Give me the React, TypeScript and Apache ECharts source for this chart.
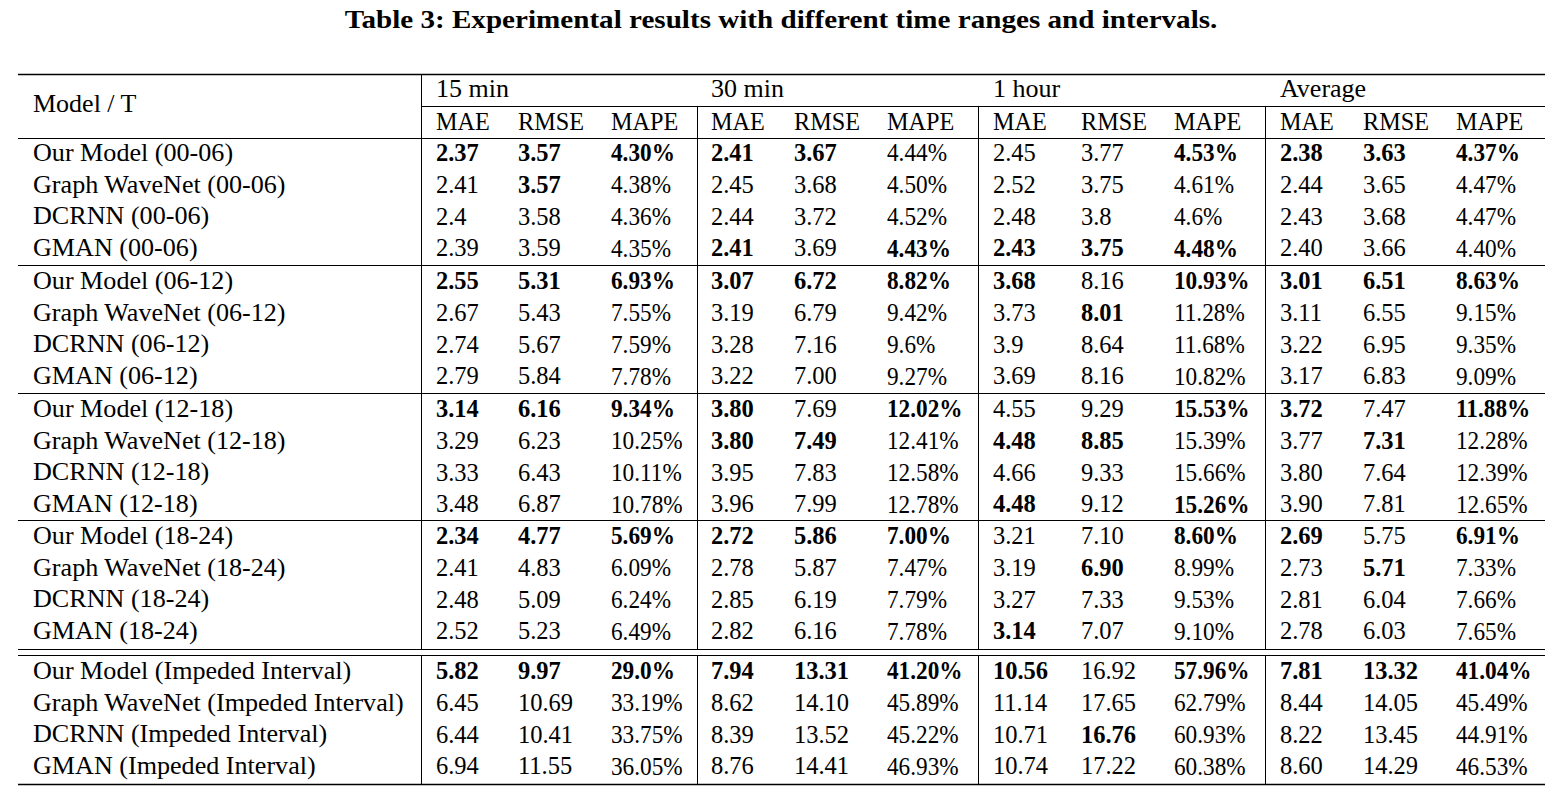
import React, { useEffect, useRef } from "react";
import * as echarts from "echarts";

const TITLE = "Table 3: Experimental results with different time ranges and intervals.";
const ROW_HEADER = "Model / T";
const PERIODS = ["15 min", "30 min", "1 hour", "Average"];
const METRICS = ["MAE", "RMSE", "MAPE"];
const MODELS = ["Our Model", "Graph WaveNet", "DCRNN", "GMAN"];
const GROUPS = ["00-06", "06-12", "12-18", "18-24", "Impeded Interval"];

// values per row: 15min(MAE,RMSE,MAPE), 30min, 1hour, Average
const V_00_06 = [
  ["2.37", "3.57", "4.30%", "2.41", "3.67", "4.44%", "2.45", "3.77", "4.53%", "2.38", "3.63", "4.37%"],
  ["2.41", "3.57", "4.38%", "2.45", "3.68", "4.50%", "2.52", "3.75", "4.61%", "2.44", "3.65", "4.47%"],
  ["2.4", "3.58", "4.36%", "2.44", "3.72", "4.52%", "2.48", "3.8", "4.6%", "2.43", "3.68", "4.47%"],
  ["2.39", "3.59", "4.35%", "2.41", "3.69", "4.43%", "2.43", "3.75", "4.48%", "2.40", "3.66", "4.40%"],
];
const V_06_12 = [
  ["2.55", "5.31", "6.93%", "3.07", "6.72", "8.82%", "3.68", "8.16", "10.93%", "3.01", "6.51", "8.63%"],
  ["2.67", "5.43", "7.55%", "3.19", "6.79", "9.42%", "3.73", "8.01", "11.28%", "3.11", "6.55", "9.15%"],
  ["2.74", "5.67", "7.59%", "3.28", "7.16", "9.6%", "3.9", "8.64", "11.68%", "3.22", "6.95", "9.35%"],
  ["2.79", "5.84", "7.78%", "3.22", "7.00", "9.27%", "3.69", "8.16", "10.82%", "3.17", "6.83", "9.09%"],
];
const V_12_18 = [
  ["3.14", "6.16", "9.34%", "3.80", "7.69", "12.02%", "4.55", "9.29", "15.53%", "3.72", "7.47", "11.88%"],
  ["3.29", "6.23", "10.25%", "3.80", "7.49", "12.41%", "4.48", "8.85", "15.39%", "3.77", "7.31", "12.28%"],
  ["3.33", "6.43", "10.11%", "3.95", "7.83", "12.58%", "4.66", "9.33", "15.66%", "3.80", "7.64", "12.39%"],
  ["3.48", "6.87", "10.78%", "3.96", "7.99", "12.78%", "4.48", "9.12", "15.26%", "3.90", "7.81", "12.65%"],
];
const V_18_24 = [
  ["2.34", "4.77", "5.69%", "2.72", "5.86", "7.00%", "3.21", "7.10", "8.60%", "2.69", "5.75", "6.91%"],
  ["2.41", "4.83", "6.09%", "2.78", "5.87", "7.47%", "3.19", "6.90", "8.99%", "2.73", "5.71", "7.33%"],
  ["2.48", "5.09", "6.24%", "2.85", "6.19", "7.79%", "3.27", "7.33", "9.53%", "2.81", "6.04", "7.66%"],
  ["2.52", "5.23", "6.49%", "2.82", "6.16", "7.78%", "3.14", "7.07", "9.10%", "2.78", "6.03", "7.65%"],
];
const V_IMPEDED = [
  ["5.82", "9.97", "29.0%", "7.94", "13.31", "41.20%", "10.56", "16.92", "57.96%", "7.81", "13.32", "41.04%"],
  ["6.45", "10.69", "33.19%", "8.62", "14.10", "45.89%", "11.14", "17.65", "62.79%", "8.44", "14.05", "45.49%"],
  ["6.44", "10.41", "33.75%", "8.39", "13.52", "45.22%", "10.71", "16.76", "60.93%", "8.22", "13.45", "44.91%"],
  ["6.94", "11.55", "36.05%", "8.76", "14.41", "46.93%", "10.74", "17.22", "60.38%", "8.60", "14.29", "46.53%"],
];
// bold flags per row ("1" = bold, best result)
const B_00_06 = ["111110001111", "010000000000", "000000000000", "000101111000"];
const B_06_12 = ["111111101111", "000000010000", "000000000000", "000000000000"];
const B_12_18 = ["111101001101", "000110110010", "000000000000", "000000101000"];
const B_18_24 = ["111111001101", "000000010010", "000000000000", "000000100000"];
const B_IMPEDED = ["111111101111", "000000000000", "000000010000", "000000000000"];

const VALUES = [V_00_06, V_06_12, V_12_18, V_18_24, V_IMPEDED];
const BOLDS = [B_00_06, B_06_12, B_12_18, B_18_24, B_IMPEDED];

export default function App() {
  const ref = useRef<HTMLDivElement>(null);
  useEffect(() => {
    document.body.style.margin = "0";
    if (!ref.current) return;
    const chart = echarts.init(ref.current, null, { renderer: "svg" });

    const FONT = '"Liberation Serif", "Times New Roman", serif';
    const FS = 25;
    const left = 18, right = 1545;
    const colSep = [421, 697, 978, 1265];
    const colX = [436, 518, 611, 711, 794, 887, 993, 1081, 1174, 1280, 1363, 1456];
    const blockStart = [152.5, 280.5, 408.5, 535.5, 670.5];
    const rowStep = 31.8;

    const els: any[] = [];
    const txt = (
      s: string,
      x: number,
      y: number,
      bold = false,
      size = FS,
      align = "left",
      sx = 1
    ) =>
      els.push({
        type: "text",
        x,
        y,
        scaleX: sx,
        silent: true,
        style: {
          text: s,
          fontFamily: FONT,
          fontSize: size,
          fontWeight: bold ? "bold" : "normal",
          fill: "#000",
          align,
          verticalAlign: "middle",
        },
      });
    const line = (x1: number, y1: number, x2: number, y2: number, w = 1) =>
      els.push({
        type: "line",
        silent: true,
        shape: { x1, y1, x2, y2 },
        style: { stroke: "#000", lineWidth: w },
      });

    // title
    txt(TITLE, 781, 19, true, 26, "center", 1.12);

    // rules
    line(left, 74.5, right, 74.5, 1.3);
    line(colSep[0], 106.5, right, 106.5);
    line(left, 138.5, right, 138.5);
    line(left, 265.5, right, 265.5);
    line(left, 393.5, right, 393.5);
    line(left, 520.5, right, 520.5);
    line(left, 649.5, right, 649.5);
    line(left, 655.5, right, 655.5);
    line(left, 784.5, right, 784.5, 1.3);

    // vertical lines
    colSep.forEach((x, i) => {
      const top = i === 0 ? 74 : 106;
      line(x + 0.5, top, x + 0.5, 649.5);
      line(x + 0.5, 655.5, x + 0.5, 784.5);
    });

    // headers
    txt(ROW_HEADER, 33, 104, false, FS, "left", 1.04);
    PERIODS.forEach((p, i) => txt(p, colX[i * 3], 89, false, FS, "left", 1.04));
    PERIODS.forEach((_, i) =>
      METRICS.forEach((m, j) => txt(m, colX[i * 3 + j], 121, false, FS, "left", 0.97))
    );

    // body
    GROUPS.forEach((g, gi) => {
      MODELS.forEach((m, mi) => {
        const y = blockStart[gi] + mi * rowStep;
        txt(`${m} (${g})`, 33, y, false, FS, "left", 1.045);
        VALUES[gi][mi].forEach((v, ci) => {
          const bold = BOLDS[gi][mi][ci] === "1";
          txt(v, colX[ci], y, bold, FS, "left", v.endsWith("%") ? 0.93 : 0.98);
        });
      });
    });

    chart.setOption({
      animation: false,
      backgroundColor: "#fff",
      graphic: { elements: els },
    });
    return () => chart.dispose();
  }, []);
  return <div ref={ref} style={{ width: 1561, height: 795 }} />;
}
